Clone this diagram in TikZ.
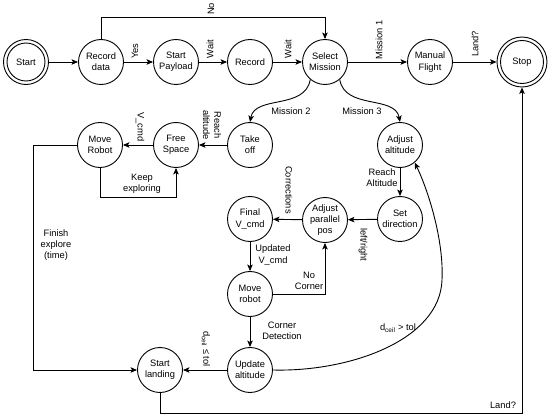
\documentclass[tikz,border=0pt]{standalone}
\usepackage{fontspec}
\setmainfont{Liberation Sans}
\usetikzlibrary{arrows.meta}
\begin{document}
\begin{tikzpicture}[x=1pt,y=-1pt,
  every node/.style={font=\fontsize{9.3}{11.3}\selectfont},
  state/.style={circle, draw, line width=0.9pt, minimum size=45pt, inner sep=0pt, align=center},
  lab/.style={align=center, inner sep=0pt},
  conn/.style={line width=0.9pt, -{Stealth[length=6.5pt,width=5.5pt,inset=1.5pt]}},
  plain/.style={line width=0.9pt}]
\useasboundingbox (0,0) rectangle (550,420);
% nodes
\node[state] (st) at (26,62) {Start};
\draw[line width=0.9pt] (st.center) circle[radius=19pt];
\node[state] (rd) at (101,62) {Record\\data};
\node[state] (sp) at (176,62) {Start\\Payload};
\node[state] (rc) at (250,62) {Record};
\node[state] (sm) at (325,62) {Select\\Mission};
\node[state] (mf) at (430,62) {Manual\\Flight};
\node[state, minimum size=50pt] (stop) at (522,62) {Stop};
\draw[line width=0.9pt] (stop.center) circle[radius=21.5pt];
\node[state] (to) at (250,145) {Take\\off};
\node[state] (fs) at (176,145) {Free\\Space};
\node[state] (mr) at (100,145) {Move\\Robot};
\node[state] (aa) at (400,145) {Adjust\\altitude};
\node[state] (sd) at (400,219) {Set\\direction};
\node[state] (ap) at (325,220) {Adjust\\parallel\\pos};
\node[state] (fv) at (250,219) {Final\\V\_cmd};
\node[state] (mv) at (250,294) {Move\\robot};
\node[state] (ua) at (250,370) {Update\\altitude};
\node[state] (sl) at (160,370) {Start\\landing};
% coordinates
\coordinate (c1) at (101,17);
\coordinate (c2) at (325,17);
\coordinate (c3) at (33,145);
\coordinate (c4) at (33,370);
\coordinate (c5) at (100,197);
\coordinate (c6) at (176,197);
\coordinate (c7) at (160,413);
\coordinate (c8) at (522,413);
\coordinate (c9) at (442,280);
% connectors
\draw[conn] (st) -- (rd);
\draw[conn] (rd) -- (sp);
\draw[conn] (sp) -- (rc);
\draw[conn] (rc) -- (sm);
\draw[conn] (sm) -- (mf);
\draw[conn] (mf) -- (stop);
\draw[conn] (rd.north) -- (c1) -- (c2) -- (sm.north);
\draw[conn] (sm.-130) .. controls (305,110) and (255,95) .. (to.north);
\draw[conn] (sm.-50) .. controls (345,110) and (395,95) .. (aa.north);
\draw[conn] (to) -- (fs);
\draw[conn] (fs) -- (mr);
\draw[conn] (mr.south) -- (c5) -- (c6) -- (fs.south);
\draw[conn] (mr.west) -- (c3) -- (c4) -- (sl.west);
\draw[conn] (aa) -- (sd);
\draw[conn] (sd) -- (ap);
\draw[conn] (ap) -- (fv);
\draw[conn] (fv) -- (mv);
\draw[conn] (mv.east) -| (ap.south);
\draw[conn] (mv) -- (ua);
\draw[conn] (ua) -- (sl);
\draw[conn] (ua.east) .. controls (350,372) and (440,340) .. (c9) .. controls (444,240) and (428,190) .. (aa.-50);
\draw[conn] (sl.south) -- (c7) -- (c8) -- (stop.south);
% labels
\node[lab, rotate=90] at (211,9) {No};
\node[lab, rotate=90] at (135,51) {Yes};
\node[lab, rotate=90] at (210,49) {Wait};
\node[lab, rotate=90] at (288,49) {Wait};
\node[lab, rotate=90] at (379,40) {Mission 1};
\node[lab, rotate=90] at (475,44) {Land?};
\node[lab] at (291,111) {Mission 2};
\node[lab] at (362,111) {Mission 3};
\node[lab, rotate=-90] at (140,127) {V\_cmd};
\node[lab, rotate=-90] at (212,125) {Reach\\altitude};
\node[lab] at (142,184) {Keep\\exploring};
\node[lab] at (56,245) {Finish\\explore\\(time)};
\node[lab] at (382,178) {Reach\\Altitude};
\node[lab, rotate=-90] at (289,190) {Corrections};
\node[lab, rotate=-90] at (363,245) {left/right};
\node[lab] at (273,255) {Updated\\V\_cmd};
\node[lab] at (309,281) {No\\Corner};
\node[lab] at (282,331) {Corner\\Detection};
\node[lab, rotate=-90] at (206,349) {d\textsubscript{ceil} ≤ tol};
\node[lab] at (398,328) {d\textsubscript{ceil} > tol};
\node[lab] at (503,405) {Land?};
\end{tikzpicture}
\end{document}
